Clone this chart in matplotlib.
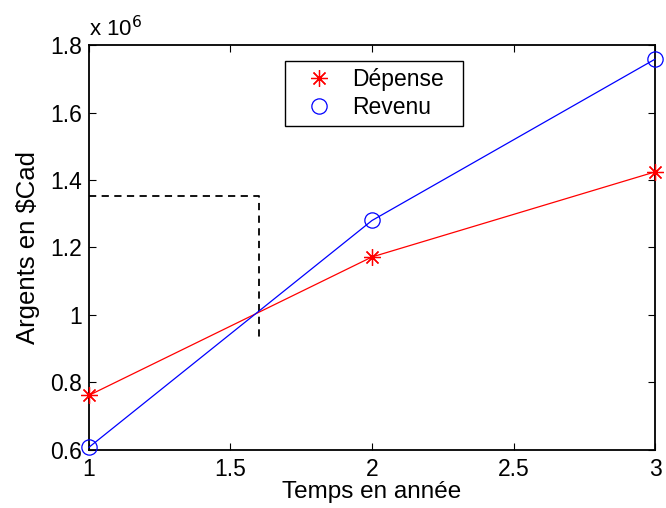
import matplotlib
matplotlib.use("Agg")
import matplotlib.pyplot as plt
from matplotlib.ticker import FuncFormatter
from matplotlib.lines import Line2D

plt.rcParams['font.family'] = ['Liberation Sans', 'DejaVu Sans']

annees = [1, 2, 3]
depense = [0.762e6, 1.172e6, 1.424e6]
revenu = [0.608e6, 1.280e6, 1.758e6]

# repere en pointilles
rep_x = [1, 1.602, 1.602]
rep_y = [1.352e6, 1.352e6, 0.928e6]

asterisque = (8, 2, 0)

fig = plt.figure(figsize=(6.66, 5.08), dpi=100)
ax = fig.add_axes([0.1336, 0.1142, 0.8499, 0.7972])

ax.plot(annees, depense, color='red', marker=asterisque, markersize=12, lw=0.9,
        markeredgewidth=0.9, clip_on=False, zorder=4)
ax.plot(annees, revenu, color='blue', marker='o', markersize=11, lw=0.9,
        markerfacecolor='none', markeredgewidth=0.9, clip_on=False, zorder=4)
ax.plot(rep_x, rep_y, 'k--', lw=1.3, dashes=(4, 3))

ax.set_xlim(1, 3)
ax.set_ylim(0.6e6, 1.8e6)
ax.set_xticks([1, 1.5, 2, 2.5, 3])
ax.set_yticks([0.6e6, 0.8e6, 1.0e6, 1.2e6, 1.4e6, 1.6e6, 1.8e6])
ax.xaxis.set_major_formatter(FuncFormatter(lambda v, p: '%g' % v))
ax.yaxis.set_major_formatter(FuncFormatter(lambda v, p: '%g' % (v / 1e6)))
ax.tick_params(direction='in', top=True, right=True, length=5, width=0.8,
               labelsize=16.5)
ax.tick_params(axis='x', pad=6)
ax.tick_params(axis='y', pad=5)
for s in ax.spines.values():
    s.set_linewidth(1.3)

ax.text(0.0, 1.01, r'x 10$^{6}$', transform=ax.transAxes, fontsize=16,
        ha='left', va='bottom')

ax.set_xlabel('Temps en année', fontsize=17.5, labelpad=0)
ax.set_ylabel('Argents en \\$Cad', fontsize=18.5, labelpad=7)

handles = [
    Line2D([], [], color='red', marker=asterisque, markersize=12,
           markeredgewidth=0.9, linestyle='none'),
    Line2D([], [], color='blue', marker='o', markersize=11,
           markerfacecolor='none', markeredgewidth=0.9, linestyle='none'),
]
leg = ax.legend(handles, ['Dépense', 'Revenu'], loc='upper left',
                bbox_to_anchor=(0.346, 0.96, 0.315, 0.0), mode='expand',
                borderaxespad=0, fontsize=16.5, fancybox=False,
                edgecolor='black', framealpha=1, handlelength=2.4,
                handletextpad=0.25, labelspacing=0.2, borderpad=0.3)
leg.get_frame().set_linewidth(1.0)

fig.savefig('out.png', dpi=100)
